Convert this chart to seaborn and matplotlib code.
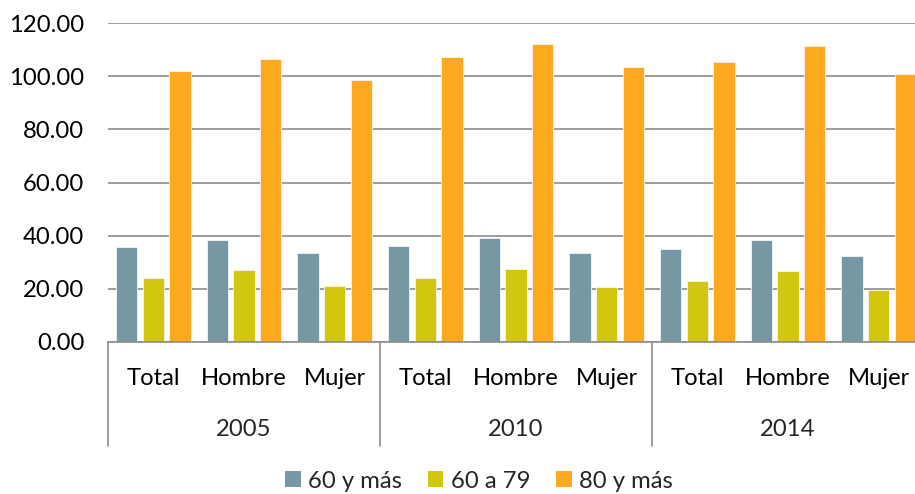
"""Clustered bars: dependency ratio by sex and year."""

import matplotlib
matplotlib.use("Agg")
import matplotlib.pyplot as plt
import matplotlib.transforms as mtransforms
from matplotlib.patches import Patch
import pandas as pd
import seaborn as sns

years = ["2005", "2010", "2014"]
sexes = ["Total", "Hombre", "Mujer"]
series = ["60 y más", "60 a 79", "80 y más"]

# values per year, in order Total / Hombre / Mujer
v_60_mas = [35.8, 38.3, 33.5, 36.1, 39.0, 33.6, 35.1, 38.5, 32.5]
v_60_79 = [24.1, 27.2, 21.2, 23.9, 27.4, 20.6, 23.0, 26.7, 19.7]
v_80_mas = [102.0, 106.3, 98.6, 107.2, 112.2, 103.4, 105.2, 111.3, 100.8]

colors = {"60 y más": "#7698A4", "60 a 79": "#D2C60E", "80 y más": "#FDA91E"}
GRID = "#8C8C8C"
FS = 17.2

cats = [f"{y} {s}" for y in years for s in sexes]
rows = []
for name, vals in zip(series, [v_60_mas, v_60_79, v_80_mas]):
    for c, v in zip(cats, vals):
        rows.append({"cat": c, "serie": name, "valor": v})
df = pd.DataFrame(rows)

sns.set_theme(style="white")
plt.rcParams["font.family"] = ["Lato", "DejaVu Sans"]

fig = plt.figure(figsize=(9.15, 4.94), dpi=100)
ax = fig.add_axes([108 / 915, 152 / 494, 816 / 915, 319 / 494])

sns.barplot(
    data=df, x="cat", y="valor", hue="serie", order=cats, hue_order=series,
    palette=colors, saturation=1, width=0.883, gap=0.21, edgecolor="#F4F4F4",
    linewidth=0.6, legend=False, ax=ax,
)

ax.set_ylim(0, 120)
ax.set_yticks(range(0, 121, 20))
ax.set_yticklabels([f"{t:.2f}" for t in range(0, 121, 20)], fontsize=FS)
ax.set_xlim(-0.5, len(cats) - 0.5)
ax.set_xticks(range(len(cats)))
ax.set_xticklabels([c.split(" ")[1] for c in cats], fontsize=FS)
ax.tick_params(axis="both", length=0, colors="#000000")
ax.tick_params(axis="y", pad=17)
ax.tick_params(axis="x", pad=19)
ax.set_xlabel("")
ax.set_ylabel("")
ax.grid(axis="y", color=GRID, linewidth=1.2)
ax.set_axisbelow(True)
for side in ["left", "right", "top"]:
    ax.spines[side].set_visible(False)
ax.spines["bottom"].set_color(GRID)
ax.spines["bottom"].set_linewidth(1.2)

# year group labels and separators below the axis
trans = mtransforms.blended_transform_factory(ax.transData, ax.transAxes)
for i, y in enumerate(years):
    ax.text(i * 3 + 1, -0.275, y, transform=trans, ha="center", va="center",
            fontsize=FS)
for b in range(len(years) + 1):
    ax.plot([b * 3 - 0.5, b * 3 - 0.5], [0, -0.325], transform=trans,
            color=GRID, linewidth=1.2, clip_on=False)

handles = [Patch(facecolor=colors[s], edgecolor="none", label=s) for s in series]
fig.legend(handles=handles, loc="center", bbox_to_anchor=(479 / 915, 12 / 494 + 0.002),
           ncol=3, frameon=False, fontsize=FS, handlelength=0.65,
           handleheight=0.65, handletextpad=0.3, columnspacing=1.1)

fig.savefig("out.png", dpi=100)
plt.close(fig)
